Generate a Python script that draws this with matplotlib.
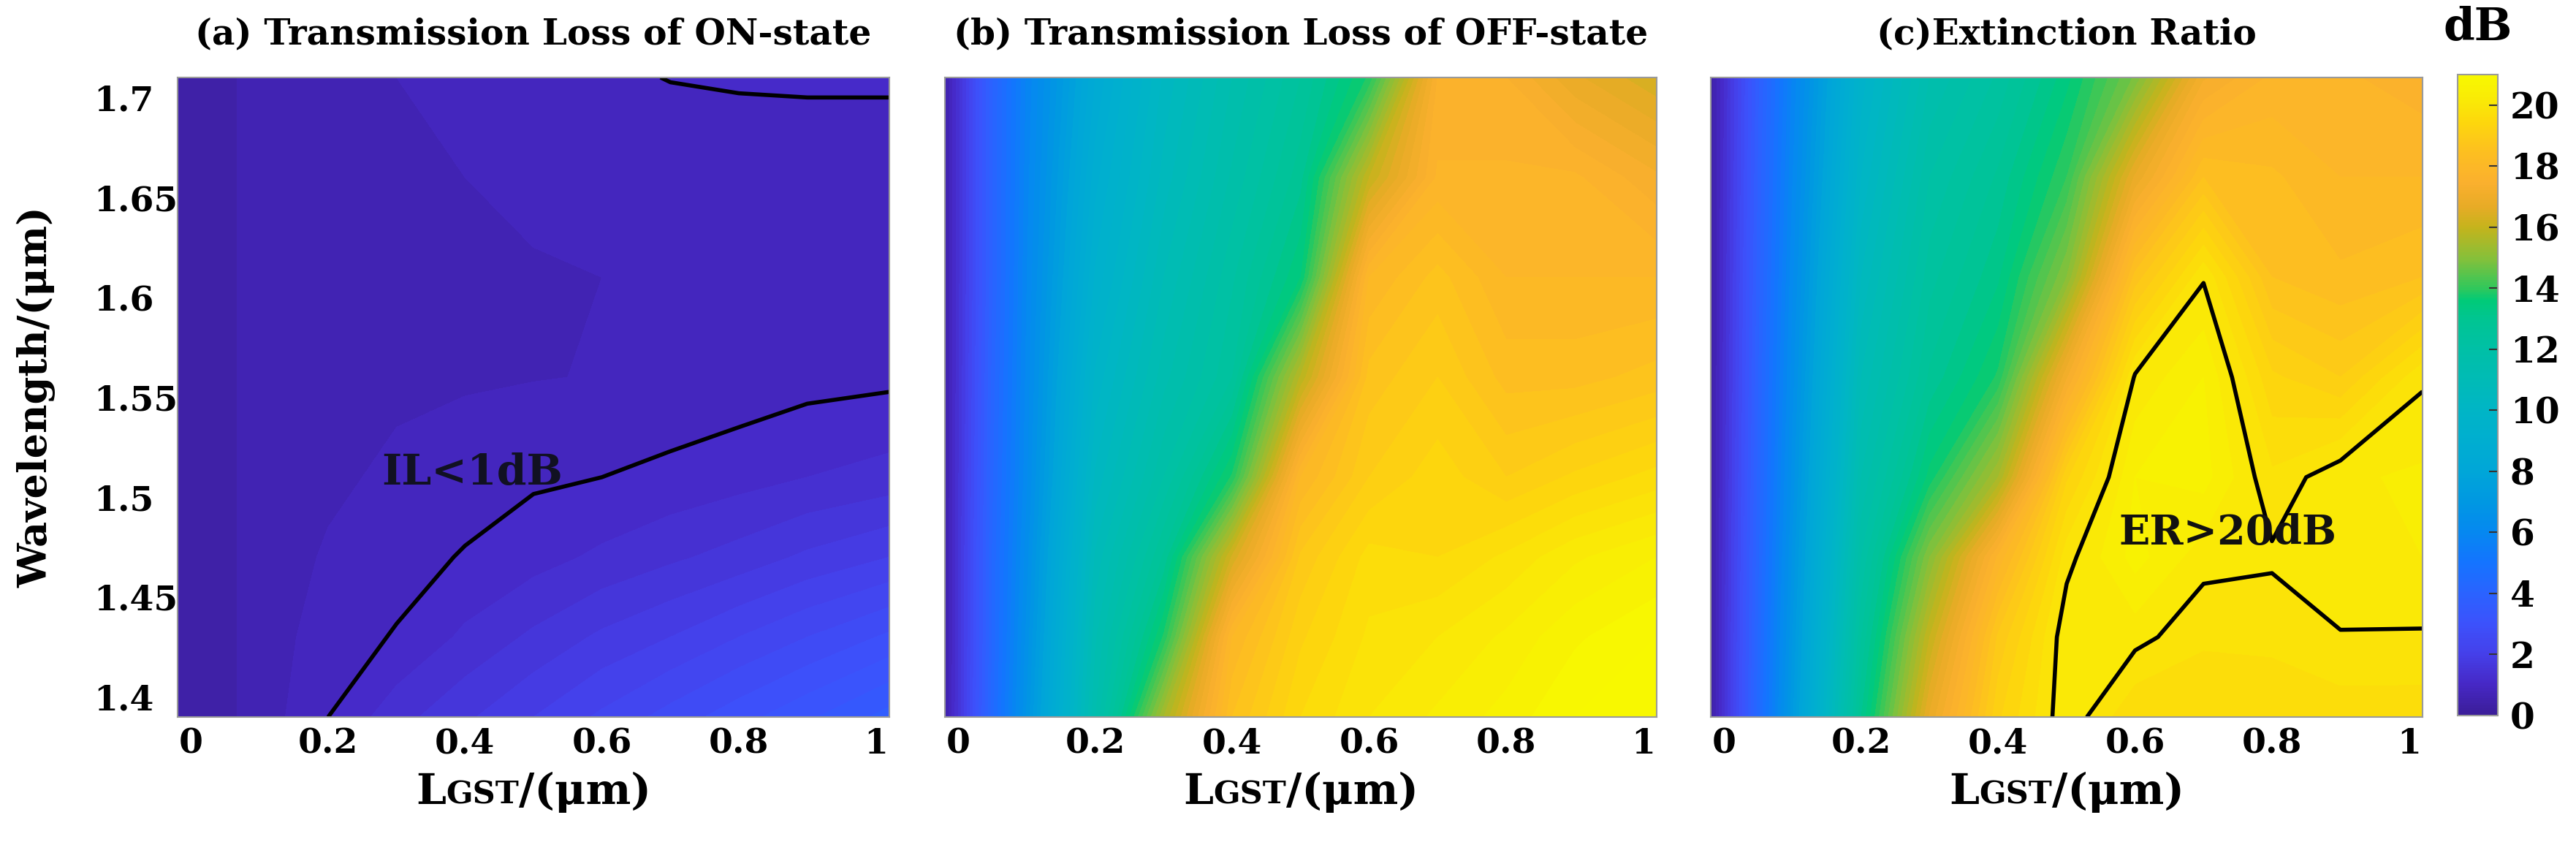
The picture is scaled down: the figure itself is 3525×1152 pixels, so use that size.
import numpy as np
import matplotlib
matplotlib.use("Agg")
import matplotlib.pyplot as plt
from matplotlib.colors import LinearSegmentedColormap, Normalize
from matplotlib.cm import ScalarMappable
from matplotlib.offsetbox import TextArea, HPacker, AnchoredOffsetbox

plt.rcParams['font.family'] = ['DejaVu Serif']
plt.rcParams['font.weight'] = 'bold'

# grid of the simulation (GST length in um, wavelength in um)
lgst = [-0.02, 0.05, 0.1, 0.2, 0.3, 0.4, 0.5, 0.6, 0.7, 0.8, 0.9, 1.02]
wavelength = [1.39, 1.43, 1.47, 1.51, 1.56, 1.61, 1.66, 1.71]

# (a) transmission loss, ON-state (dB), rows = wavelength from bottom to top
loss_on = [
    [0.3, 0.45, 0.6, 1.0, 1.4, 1.7, 2.0, 2.3, 2.6, 2.9, 3.2, 3.6],
    [0.3, 0.45, 0.6, 0.88, 1.02, 1.3, 1.55, 1.8, 2.0, 2.25, 2.5, 2.8],
    [0.3, 0.45, 0.6, 0.78, 0.9, 1.02, 1.15, 1.3, 1.45, 1.6, 1.8, 2.0],
    [0.3, 0.45, 0.6, 0.7, 0.8, 0.88, 0.96, 1.0, 1.07, 1.15, 1.25, 1.35],
    [0.3, 0.45, 0.6, 0.65, 0.7, 0.72, 0.74, 0.76, 0.8, 0.85, 0.91, 0.94],
    [0.3, 0.45, 0.6, 0.65, 0.68, 0.7, 0.72, 0.75, 0.78, 0.8, 0.85, 0.88],
    [0.3, 0.45, 0.6, 0.65, 0.7, 0.75, 0.82, 0.86, 0.9, 0.92, 0.92, 0.92],
    [0.3, 0.45, 0.6, 0.67, 0.75, 0.85, 0.93, 0.97, 1.005, 1.015, 1.02, 1.02],
]

# (b) transmission loss, OFF-state (dB)
loss_off = [
    [0.4, 4.4, 6.8, 11.5, 15.5, 18.5, 19.5, 20.0, 20.3, 20.6, 21.0, 21.3],
    [0.4, 4.3, 6.6, 11.2, 13.8, 18.0, 19.2, 19.8, 20.0, 20.3, 20.7, 21.0],
    [0.4, 4.3, 6.4, 10.8, 12.8, 16.3, 18.8, 19.6, 19.5, 19.8, 20.2, 20.5],
    [0.4, 4.2, 6.2, 10.3, 12.0, 13.8, 18.0, 19.0, 19.4, 19.0, 19.3, 19.6],
    [0.4, 4.1, 6.1, 9.8, 11.4, 12.5, 15.8, 18.6, 19.0, 18.4, 18.4, 18.6],
    [0.4, 4.0, 6.0, 9.3, 11.0, 12.2, 13.5, 18.0, 18.6, 18.0, 18.0, 18.0],
    [0.4, 4.0, 5.9, 8.9, 10.6, 11.8, 12.9, 16.0, 17.8, 17.8, 17.8, 17.3],
    [0.4, 4.0, 5.8, 8.5, 10.3, 11.5, 12.5, 13.8, 17.5, 17.5, 16.8, 16.3],
]

# (c) extinction ratio (dB)
ext_ratio = [
    [0.3, 4.4, 7.2, 13.0, 16.8, 19.2, 20.21, 19.5, 19.5, 19.6, 19.6, 19.6],
    [0.3, 4.3, 7.0, 12.5, 16.0, 18.8, 20.2, 20.1, 19.8, 19.8, 19.98, 19.97],
    [0.3, 4.2, 6.8, 12.0, 15.0, 17.8, 19.9, 20.6, 20.1, 20.05, 20.2, 20.25],
    [0.3, 4.1, 6.6, 11.5, 13.6, 15.5, 19.2, 20.5, 20.6, 19.8, 20.2, 20.3],
    [0.3, 4.0, 6.4, 11.0, 12.8, 13.8, 17.2, 20.05, 20.5, 19.3, 19.0, 19.95],
    [0.3, 3.9, 6.2, 10.5, 12.4, 13.2, 15.0, 18.6, 19.97, 18.5, 18.3, 18.5],
    [0.3, 3.8, 6.0, 10.0, 12.0, 12.8, 14.0, 16.8, 18.5, 18.3, 18.0, 18.0],
    [0.3, 3.7, 5.8, 9.6, 11.5, 12.3, 13.4, 14.8, 17.2, 17.8, 17.8, 17.6],
]

titles = ["(a) Transmission Loss of ON-state",
          "(b) Transmission Loss of OFF-state",
          "(c)Extinction Ratio"]
xticks = [0, 0.2, 0.4, 0.6, 0.8, 1]
xtick_labels = ["0", "0.2", "0.4", "0.6", "0.8", "1"]
yticks = [1.4, 1.45, 1.5, 1.55, 1.6, 1.65, 1.7]
ytick_labels = ["1.4", "1.45", "1.5", "1.55", "1.6", "1.65", "1.7"]
cbar_ticks = [0, 2, 4, 6, 8, 10, 12, 14, 16, 18, 20]

# colour map
cmap_pos = [0, 1, 2, 3, 4, 5, 6, 7, 8, 9, 10, 11, 12, 13, 13.6, 14, 15, 16,
            16.7, 17.5, 18.5, 19.5, 20.3, 21]
cmap_col = ["#3b1d98", "#4628c6", "#4540ea", "#3c52fc", "#2a63ff", "#1474ff",
            "#0588f0", "#0098e2", "#00a6d8", "#00aed0", "#00b5c6", "#00bbb6",
            "#00c0a6", "#00c592", "#00ca78", "#2fc85c", "#86c03a", "#c4b41c",
            "#e8ab26", "#fbb02e", "#fdbf20", "#fdd80c", "#f9ec05", "#f8f800"]
cmap = LinearSegmentedColormap.from_list(
    "dbmap", list(zip(np.array(cmap_pos) / 21.0, cmap_col)))
norm = Normalize(vmin=0, vmax=21)
levels = np.linspace(0, 22, 89)

fig = plt.figure(figsize=(35.25, 11.52), dpi=100)
lefts = [243, 1293, 2341]
W, H = 3525.0, 1152.0
axes = [fig.add_axes([l / W, 1 - 981 / H, 974 / W, 875 / H]) for l in lefts]
cax = fig.add_axes([3363 / W, 1 - 979 / H, 55 / W, 877 / H])

data = [loss_on, loss_off, ext_ratio]
for i, ax in enumerate(axes):
    ax.contourf(lgst, wavelength, data[i], levels=levels, cmap=cmap, norm=norm,
                extend='max')
    ax.set_xlim(-0.02, 1.02)
    ax.set_ylim(1.39, 1.71)
    ax.set_xticks(xticks)
    ax.set_xticklabels(xtick_labels, fontsize=34, fontweight='bold')
    ax.tick_params(axis='x', length=0, pad=10)
    for sp in ax.spines.values():
        sp.set_color('#9a9a9a')
        sp.set_linewidth(1.5)
    ax.set_title(titles[i], fontsize=35, fontweight='bold', pad=33)

    # x label with small caps GST
    parts = [TextArea("L", textprops=dict(size=42, weight='bold')),
             TextArea("GST", textprops=dict(size=31, weight='bold')),
             TextArea("/(μm)", textprops=dict(size=42, weight='bold'))]
    pack = HPacker(children=parts, align='baseline', pad=0, sep=0)
    box = AnchoredOffsetbox(loc='upper center', child=pack, pad=0, borderpad=0,
                            frameon=False, bbox_to_anchor=(0.5, -0.085),
                            bbox_transform=ax.transAxes)
    ax.add_artist(box)

    if i == 0:
        ax.set_yticks(yticks)
        ax.set_yticklabels(ytick_labels, fontsize=34, fontweight='bold')
        ax.tick_params(axis='y', length=0, pad=83)
        for lab in ax.get_yticklabels():
            lab.set_horizontalalignment('left')
    else:
        ax.set_yticks([])

fig.text(50 / W, 1 - 543 / H, "Wavelength/(μm)", fontsize=39, fontweight='bold',
         rotation=90, ha='center', va='center')

axes[0].contour(lgst, wavelength, loss_on, levels=[1], colors='k', linewidths=4)
axes[2].contour(lgst, wavelength, ext_ratio, levels=[20], colors='k', linewidths=4)
axes[0].text(0.41, 1.512, "IL<1dB", fontsize=42, fontweight='bold',
             ha='center', va='center', color='#111122')
axes[2].text(0.735, 1.482, "ER>20dB", fontsize=40, fontweight='bold',
             ha='center', va='center', color='#111111')

cb = fig.colorbar(ScalarMappable(norm=norm, cmap=cmap), cax=cax)
cb.set_ticks(cbar_ticks)
cb.ax.tick_params(direction='in', length=9, width=1.5, colors='#333333',
                  labelsize=35, labelcolor='black', pad=12)
for lab in cb.ax.get_yticklabels():
    lab.set_fontweight('bold')
cb.outline.set_edgecolor('#9a9a9a')
cb.outline.set_linewidth(1.5)
cax.set_title("dB", fontsize=44, fontweight='bold', pad=34)

fig.savefig("out.png", dpi=100)
